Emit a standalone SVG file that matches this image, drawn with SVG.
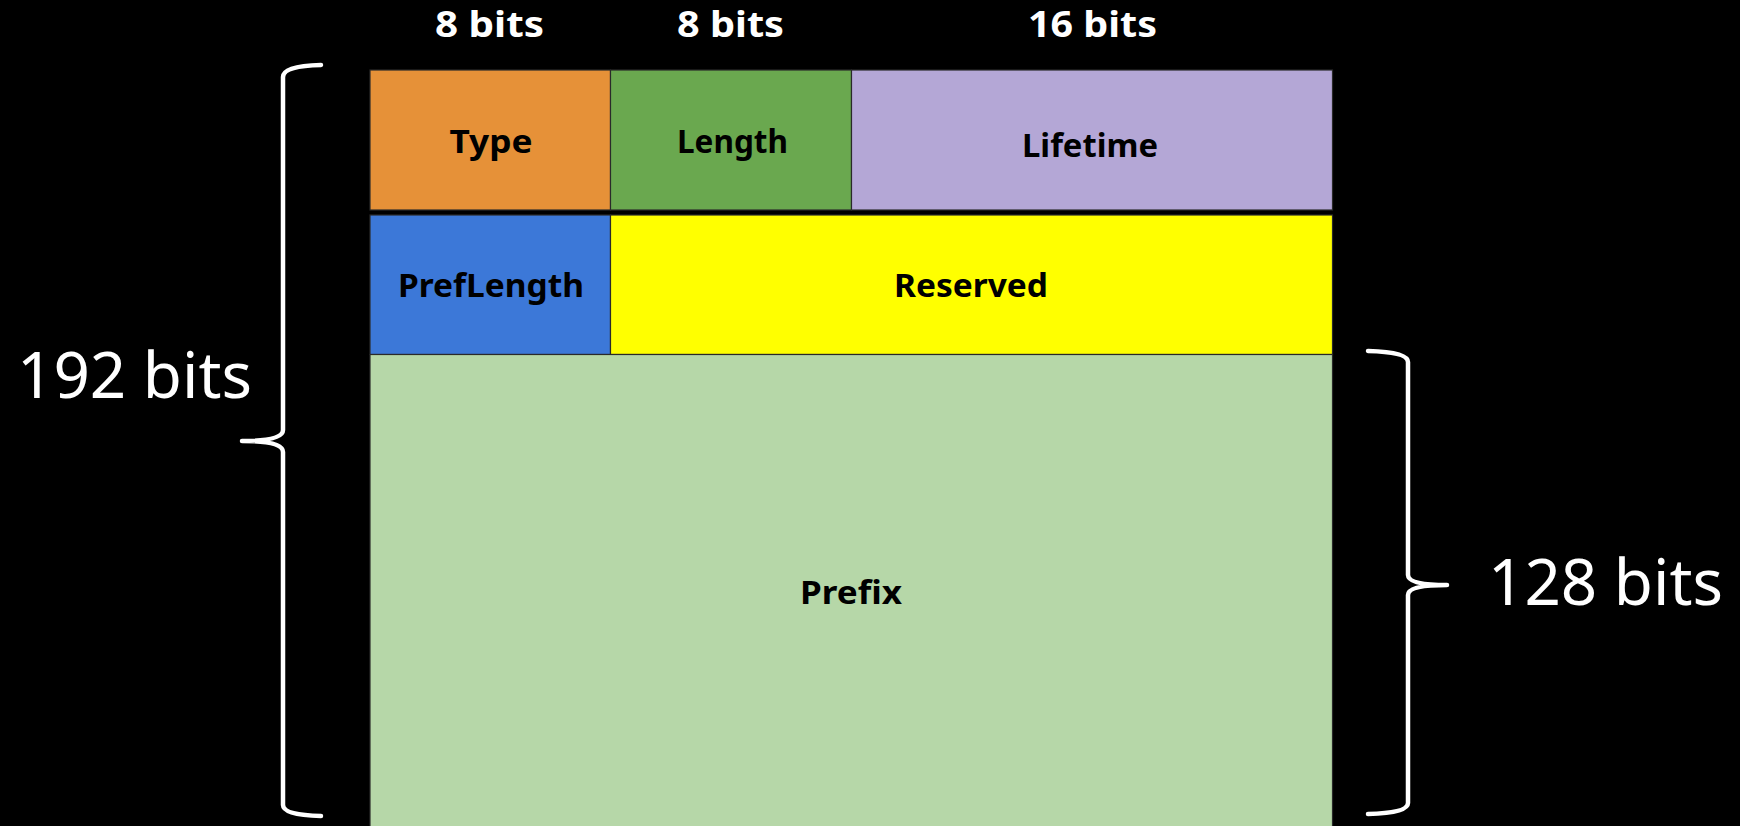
<svg xmlns="http://www.w3.org/2000/svg" width="1740" height="826" viewBox="0 0 1740 826">
<style>
.cell{stroke:#2a2a2a;stroke-width:1.2}
.lbl{font-family:"Comic Sans MS","Noto Sans","DejaVu Sans",sans-serif;font-weight:bold;font-size:33px;fill:#000;text-anchor:middle}
.hdr{font-family:"Comic Sans MS","Noto Sans","DejaVu Sans",sans-serif;font-weight:bold;font-size:36px;fill:#fff;text-anchor:middle}
.side{font-family:"Comic Sans MS","Noto Sans","DejaVu Sans",sans-serif;font-size:64px;fill:#fff}
.brace{fill:none;stroke:#fff;stroke-width:4.5;stroke-linecap:round;stroke-linejoin:round}
</style>
<rect x="0" y="0" width="1740" height="826" fill="#000"/>
<g id="headers">
<text class="hdr" x="489.5" y="37" textLength="109" lengthAdjust="spacingAndGlyphs">8 bits</text>
<text class="hdr" x="730.5" y="37" textLength="107" lengthAdjust="spacingAndGlyphs">8 bits</text>
<text class="hdr" x="1092.5" y="37" textLength="129" lengthAdjust="spacingAndGlyphs">16 bits</text>
</g>
<g id="type"><rect class="cell" x="370" y="70" width="240.5" height="140" fill="#E69138"/>
<text class="lbl" x="491" y="153" textLength="83" lengthAdjust="spacingAndGlyphs">Type</text></g>
<g id="length"><rect class="cell" x="610.5" y="70" width="241" height="140" fill="#6AA84F"/>
<text class="lbl" x="732.5" y="153" textLength="111" lengthAdjust="spacingAndGlyphs">Length</text></g>
<g id="lifetime"><rect class="cell" x="851.5" y="70" width="481" height="140" fill="#B4A7D6"/>
<text class="lbl" x="1090" y="157" textLength="136" lengthAdjust="spacingAndGlyphs">Lifetime</text></g>
<g id="preflength"><rect class="cell" x="370" y="215" width="240.5" height="139.5" fill="#3C78D8"/>
<text class="lbl" x="491" y="297" textLength="186" lengthAdjust="spacingAndGlyphs">PrefLength</text></g>
<g id="reserved"><rect class="cell" x="610.5" y="215" width="722" height="139.5" fill="#FFFF00"/>
<text class="lbl" x="971" y="297" textLength="154" lengthAdjust="spacingAndGlyphs">Reserved</text></g>
<g id="prefix"><rect class="cell" x="370" y="354.5" width="962.5" height="480" fill="#B6D7A8"/>
<text class="lbl" x="851" y="604" textLength="102" lengthAdjust="spacingAndGlyphs">Prefix</text></g>
<g id="braces">
<path class="brace" d="M321,65 Q283,66 283,77 V430 Q283,441 242,441 Q283,441 283,452 V805 Q283,815 321,816"/>
<path class="brace" d="M1368,351 Q1408,352 1408,362 V575 Q1408,585 1447,585 Q1408,585 1408,595 V803 Q1408,813 1368,814"/>
</g>
<g id="labels">
<text class="side" x="17" y="398" textLength="235" lengthAdjust="spacingAndGlyphs">192 bits</text>
<text class="side" x="1488" y="605" textLength="235" lengthAdjust="spacingAndGlyphs">128 bits</text>
</g>
</svg>
